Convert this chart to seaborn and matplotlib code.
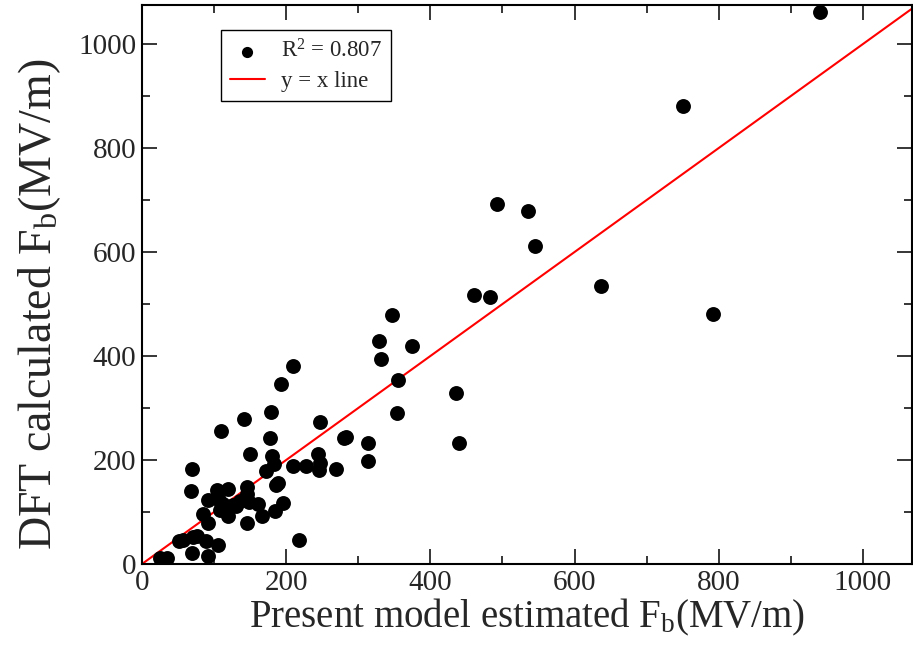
import matplotlib
matplotlib.use("Agg")
import matplotlib.pyplot as plt
import seaborn as sns
import pandas as pd
from matplotlib.ticker import MultipleLocator

# Present model estimated F_b (MV/m)
model_fb = [940, 751, 792, 636, 493, 536, 545, 461, 483, 347,
            329, 375, 332, 355, 436, 354, 440, 247, 280, 283,
            313, 314, 210, 193, 179, 142, 109, 177, 150, 181,
            183, 69, 172, 209, 227, 244, 247, 246, 269, 68,
            104, 120, 145, 145, 92, 107, 136, 131, 161, 108,
            186, 188, 195, 184, 167, 120, 85, 92, 146, 218,
            52, 57, 71, 76, 89, 106, 70, 92, 25, 35,
            148, 126, 113]
# DFT calculated F_b (MV/m)
dft_fb = [1062, 881, 480, 535, 692, 679, 612, 517, 513, 479,
          429, 420, 394, 353, 328, 290, 232, 273, 242, 245,
          232, 199, 381, 347, 293, 279, 256, 243, 211, 208,
          192, 182, 179, 189, 188, 211, 195, 180, 182, 141,
          143, 144, 148, 134, 124, 123, 122, 112, 116, 104,
          152, 156, 118, 102, 92, 92, 97, 79, 79, 46,
          44, 46, 52, 53, 44, 37, 21, 15, 12, 11,
          119, 113, 116]
line_x = [0, 1100]
line_y = [0, 1100]

df = pd.DataFrame({"model": model_fb, "dft": dft_fb})
dline = pd.DataFrame({"x": line_x, "y": line_y})

sns.set_theme(style="ticks")
plt.rcParams["font.family"] = ["Liberation Serif", "DejaVu Serif"]
plt.rcParams["mathtext.fontset"] = "custom"
plt.rcParams["mathtext.rm"] = "Liberation Serif"
plt.rcParams["mathtext.it"] = "Liberation Serif:italic"

fig = plt.figure(figsize=(9.13, 6.5), dpi=100)
ax = fig.add_axes([0.1555, 0.1323, 0.8434, 0.86])

sns.scatterplot(data=df, x="model", y="dft", ax=ax, color="black", s=115,
                edgecolor="black", linewidth=0, label=r"R$^2$ = 0.807", zorder=3)
sns.lineplot(data=dline, x="x", y="y", ax=ax, color="red", linewidth=1.5,
             label="y = x line", zorder=2)

ax.set_xlim(0, 1068)
ax.set_ylim(0, 1075)
ax.xaxis.set_major_locator(MultipleLocator(200))
ax.xaxis.set_minor_locator(MultipleLocator(100))
ax.yaxis.set_major_locator(MultipleLocator(200))
ax.yaxis.set_minor_locator(MultipleLocator(100))
ax.tick_params(which="both", direction="in", top=True, right=True,
               width=1.1, color="black", labelsize=21, pad=4)
ax.tick_params(which="major", length=11)
ax.tick_params(which="minor", length=5.5)
for sp in ax.spines.values():
    sp.set_linewidth(1.5)
    sp.set_color("black")

ax.set_xlabel(r"Present model estimated F$_\mathregular{b}$(MV/m)", fontsize=28)
ax.set_ylabel(r"DFT calculated F$_\mathregular{b}$(MV/m)", fontsize=33)
ax.xaxis.set_label_coords(0.5, -0.058)
ax.yaxis.set_label_coords(-0.103, 0.465)

leg = ax.legend(loc="upper left", bbox_to_anchor=(0.1026, 0.955), fontsize=16.5,
                frameon=True, fancybox=False, edgecolor="black",
                borderpad=0.4, handlelength=1.5, handletextpad=0.7,
                labelspacing=0.35, borderaxespad=0, markerscale=0.75)
leg.get_frame().set_linewidth(1.0)
leg.get_frame().set_alpha(1)

fig.savefig("out.png", dpi=100)
